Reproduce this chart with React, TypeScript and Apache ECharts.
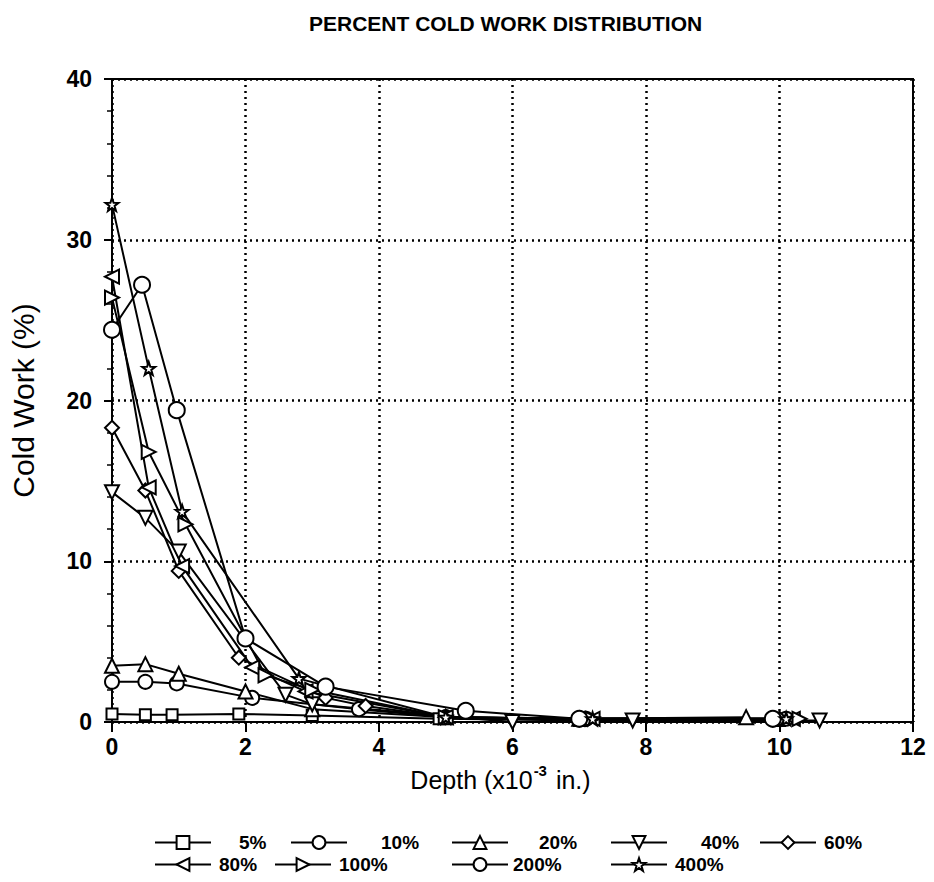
import React, { useEffect, useRef } from "react";
import * as echarts from "echarts";

const seriesNames = ["5%", "10%", "20%", "40%", "60%", "80%", "100%", "200%", "400%"];

const cw5 = [[0, 0.5], [0.5, 0.45], [0.9, 0.45], [1.9, 0.5], [3.0, 0.4], [4.9, 0.2], [7.0, 0.1], [10.0, 0.1]];
const cw10 = [[0, 2.5], [0.5, 2.5], [0.97, 2.4], [2.1, 1.5], [3.7, 0.8], [5.0, 0.3], [7.1, 0.2], [10.1, 0.2]];
const cw20 = [[0, 3.5], [0.5, 3.6], [1.0, 3.0], [2.0, 1.9], [3.0, 0.8], [5.0, 0.3], [7.0, 0.2], [9.5, 0.3]];
const cw40 = [[0, 14.3], [0.5, 12.7], [1.0, 10.6], [2.6, 1.7], [3.0, 1.1], [6.0, 0.0], [7.8, 0.1], [10.6, 0.1]];
const cw60 = [[0, 18.3], [0.5, 14.4], [1.0, 9.4], [1.9, 4.0], [3.2, 1.5], [3.8, 1.0], [5.0, 0.3], [7.1, 0.2], [10.0, 0.2]];
const cw80 = [[0, 27.7], [0.55, 14.6], [1.05, 9.7], [2.1, 3.4], [2.9, 1.9], [5.0, 0.3], [7.2, 0.2], [10.2, 0.2]];
const cw100 = [[0, 26.4], [0.55, 16.8], [1.1, 12.3], [2.3, 2.9], [3.0, 2.0], [5.0, 0.3], [7.2, 0.2], [10.3, 0.2]];
const cw200 = [[0, 24.4], [0.45, 27.2], [0.97, 19.4], [2.0, 5.2], [3.2, 2.2], [5.3, 0.7], [7.0, 0.2], [9.9, 0.2]];
const cw400 = [[0, 32.2], [0.55, 22.0], [1.05, 13.1], [2.8, 2.7], [5.0, 0.3], [7.2, 0.2], [10.1, 0.2]];

const seriesData = [cw5, cw10, cw20, cw40, cw60, cw80, cw100, cw200, cw400];

const xTicks = [0, 2, 4, 6, 8, 10, 12];
const yTicks = [0, 10, 20, 30, 40];

const STAR = "path://M0,-10 L2.35,-3.24 L9.51,-3.09 L3.8,1.24 L5.88,8.09 L0,4 L-5.88,8.09 L-3.8,1.24 L-9.51,-3.09 L-2.35,-3.24 Z";

const symbols = ["rect", "circle", "triangle", "triangle", "diamond", "triangle", "triangle", "circle", STAR];
const rotations = [0, 0, 0, 180, 0, 90, -90, 0, 0];
const sizes = [11, 14, 14, 14, 14, 14, 14, 16, 13];

// legend layout: [iconLeft, labelLeft, top]
const legendPos = [
  [154, 238, 833],
  [290, 380, 833],
  [451, 538, 833],
  [610, 700, 833],
  [759, 823, 833],
  [154, 218, 855],
  [274, 338, 855],
  [451, 512, 855],
  [610, 674, 855],
];

const FONT = "'Liberation Sans', Arial, Helvetica, sans-serif";

export default function App() {
  const ref = useRef<HTMLDivElement>(null);
  useEffect(() => {
    if (!ref.current) return;
    const chart = echarts.init(ref.current, undefined, { renderer: "svg" });
    const legendW = 56;
    const legends = seriesNames.map((n, i) => ({
      data: [n],
      left: legendPos[i][0],
      top: legendPos[i][2],
      orient: "horizontal",
      itemWidth: legendW,
      itemHeight: 16,
      padding: 0,
      symbolRotate: "inherit",
      textStyle: {
        color: "#000",
        fontFamily: FONT,
        fontWeight: "bold",
        fontSize: 19,
        padding: [0, 0, 0, Math.max(0, legendPos[i][1] - legendPos[i][0] - legendW - 5)],
      },
    }));
    chart.setOption({
      animation: false,
      backgroundColor: "#fff",
      title: {
        text: "PERCENT COLD WORK DISTRIBUTION",
        left: 304,
        top: 8,
        textStyle: { color: "#000", fontFamily: FONT, fontWeight: "bold", fontSize: 21 },
      },
      legend: legends,
      grid: {
        left: 110,
        right: 21,
        top: 79,
        bottom: 160,
        show: true,
        borderColor: "#000",
        borderWidth: 2,
        backgroundColor: "transparent",
      },
      xAxis: {
        type: "value",
        min: xTicks[0],
        max: xTicks[xTicks.length - 1],
        interval: 2,
        name: "{a|Depth (x10}{s|-3}{a| in.)}",
        nameLocation: "middle",
        nameGap: 32,
        nameTextStyle: {
          color: "#000",
          fontFamily: FONT,
          padding: [0, 24, 0, 0],
          rich: {
            a: { fontSize: 25, fontFamily: FONT, color: "#000", lineHeight: 30, verticalAlign: "bottom" },
            s: { fontSize: 15, fontFamily: FONT, fontWeight: "bold", color: "#000", lineHeight: 30, verticalAlign: "top", padding: [0, 2, 0, 1] },
          },
        },
        axisLine: { show: true, lineStyle: { color: "#000", width: 2 } },
        axisTick: { show: true, length: 10, lineStyle: { color: "#000", width: 2 } },
        axisLabel: { color: "#000", fontFamily: FONT, fontWeight: "bold", fontSize: 23, margin: 13 },
        splitLine: { show: true, lineStyle: { color: "#000", type: [2, 4], width: 2.5 } },
      },
      yAxis: {
        type: "value",
        min: yTicks[0],
        max: yTicks[yTicks.length - 1],
        interval: 10,
        name: "Cold Work (%)",
        nameLocation: "middle",
        nameRotate: 90,
        nameGap: 74,
        nameTextStyle: { color: "#000", fontFamily: FONT, fontSize: 30 },
        axisLine: { show: true, lineStyle: { color: "#000", width: 2 } },
        axisTick: { show: true, length: 8, lineStyle: { color: "#000", width: 2 } },
        minorTick: { show: true, splitNumber: 5, length: 5, lineStyle: { color: "#000", width: 1.5 } },
        axisLabel: { color: "#000", fontFamily: FONT, fontWeight: "bold", fontSize: 23, margin: 20 },
        splitLine: { show: true, lineStyle: { color: "#000", type: [2, 4], width: 2.5 } },
      },
      series: seriesNames.map((n, i) => ({
        name: n,
        type: "line",
        data: seriesData[i],
        symbol: symbols[i],
        symbolSize: sizes[i],
        symbolRotate: rotations[i],
        showAllSymbol: true,
        clip: false,
        lineStyle: { color: "#000", width: 2 },
        itemStyle: { color: "#fff", borderColor: "#000", borderWidth: 2 },
        emphasis: { disabled: true },
      })),
    });
    return () => chart.dispose();
  }, []);
  return (
    <div
      ref={ref}
      style={{ position: "fixed", left: 0, top: 0, width: 934, height: 882, background: "#fff" }}
    />
  );
}
